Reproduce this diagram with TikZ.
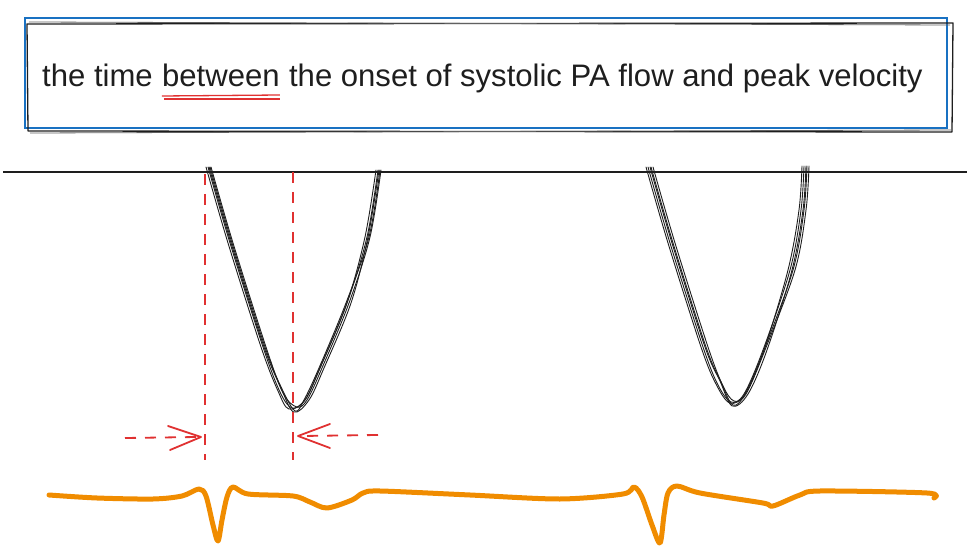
\documentclass[tikz,border=0pt]{standalone}
\usepackage{fontspec}
\setmainfont{Liberation Sans}
\usetikzlibrary{calc}
\definecolor{exblack}{HTML}{1E1E1E}
\definecolor{exblue}{HTML}{1971C2}
\definecolor{exred}{HTML}{E03131}
\definecolor{exorange}{HTML}{F08C00}
\tikzset{
  sketch/.style={exblack, line width=0.9bp, line cap=round, line join=round},
  guide/.style={exred, line width=1.8bp, dash pattern=on 11bp off 9bp},
  chev/.style={exred, line width=1.8bp, line cap=round, line join=round},
  ecg/.style={exorange, line width=5bp, line cap=round, line join=round},
  title/.style={font=\fontsize{31.2}{36}\selectfont, text=exblack, inner sep=0pt, anchor=base west}
}
\begin{document}
\begin{tikzpicture}[x=1bp, y=-1bp]
\useasboundingbox (0,0) rectangle (967,553);
% title box
\draw[exblue, line width=2.5bp] (25,18) rectangle (947,128);
\draw[exblack, line width=1.3bp, line join=round] (27,24) -- (953,23) -- (952,132) -- (28,131) -- cycle;
\draw[exblack!70, line width=0.8bp] (29,22) -- (950,25);
\draw[exblack!70, line width=0.8bp] (30,133) -- (951,130);
% title text
\node[title] (t1) at (42,87) {the time};
\node[title] (t2) at ($(t1.base east)+(9,0)$) {between};
\node[title] (t3) at ($(t2.base east)+(9,0)$) {the onset of systolic PA flow and peak velocity};
\draw[exred, line width=1.3bp] ($(t2.base west)+(0,9)$) -- ($(t2.base east)+(0,8)$);
\draw[exred, line width=1.3bp] ($(t2.base west)+(2,12)$) -- ($(t2.base east)+(0,12)$);
% baseline
\coordinate (hl) at (3,172);
\coordinate (hr) at (967,172);
\draw[exblack, line width=2.6bp] (hl) -- (hr);
% waveform 1
\foreach \dx/\dy/\dr in {0/0/0, 2/3/-3, -2/1/2, 3/-1/-1, 1/4/3}{
  \draw[sketch, xshift=\dx bp] plot[smooth, tension=0.55] coordinates {(208,167) (230,243) (263,347) (280,392-\dy) (292+\dx*0.6,408+\dy) (305+\dr,400) (320+\dr,368) (347+\dr,303) (367,237) (378,170)};
}
% waveform 2
\foreach \dx/\dy/\dr in {0/0/0, 3/3/-2, -2/1/3, 5/-1/-3, 2/4/2}{
  \draw[sketch, xshift=\dx bp] plot[smooth, tension=0.55] coordinates {(648,167) (670,243) (703,347) (718,385-\dy) (731-\dx*0.4,402+\dy) (744+\dr,394) (763+\dr,350) (790,270) (801,210) (804,166)};
}
% guides
\coordinate (g1t) at (205,174);
\coordinate (g1b) at (205,460);
\coordinate (g2t) at (293,172);
\coordinate (g2b) at (293,460);
\draw[guide] (g1t) -- (g1b);
\draw[guide] (g2t) -- (g2b);
% left arrow
\coordinate (a1s) at (125,438);
\coordinate (a1t) at (201,437);
\draw[guide] (a1s) -- ($(a1t)+(-4,0)$);
\draw[chev] (168,426) -- (a1t) -- (170,450);
% right arrow
\coordinate (a2s) at (378,435);
\coordinate (a2t) at (298,436);
\draw[guide] (a2s) -- ($(a2t)+(4,0)$);
\draw[chev] (330,424) -- (a2t) -- (330,448);
% ECG
\draw[ecg] plot[smooth, tension=0.5] coordinates {
 (49,495) (97,498) (153,499) (182,496) (199,489) (206,496) (213,525) (218,541) (222,520) (227,497) (233,487) (248,494) (293,496) (310,502) (327,508) (352,500) (363,493) (380,491) (470,495) (560,499) (623,494) (634,487) (642,497) (652,525) (660,543) (664,515) (668,493) (677,486) (700,493) (763,503) (773,506) (800,495) (820,491) (927,493) (934,498)};
\end{tikzpicture}
\end{document}
